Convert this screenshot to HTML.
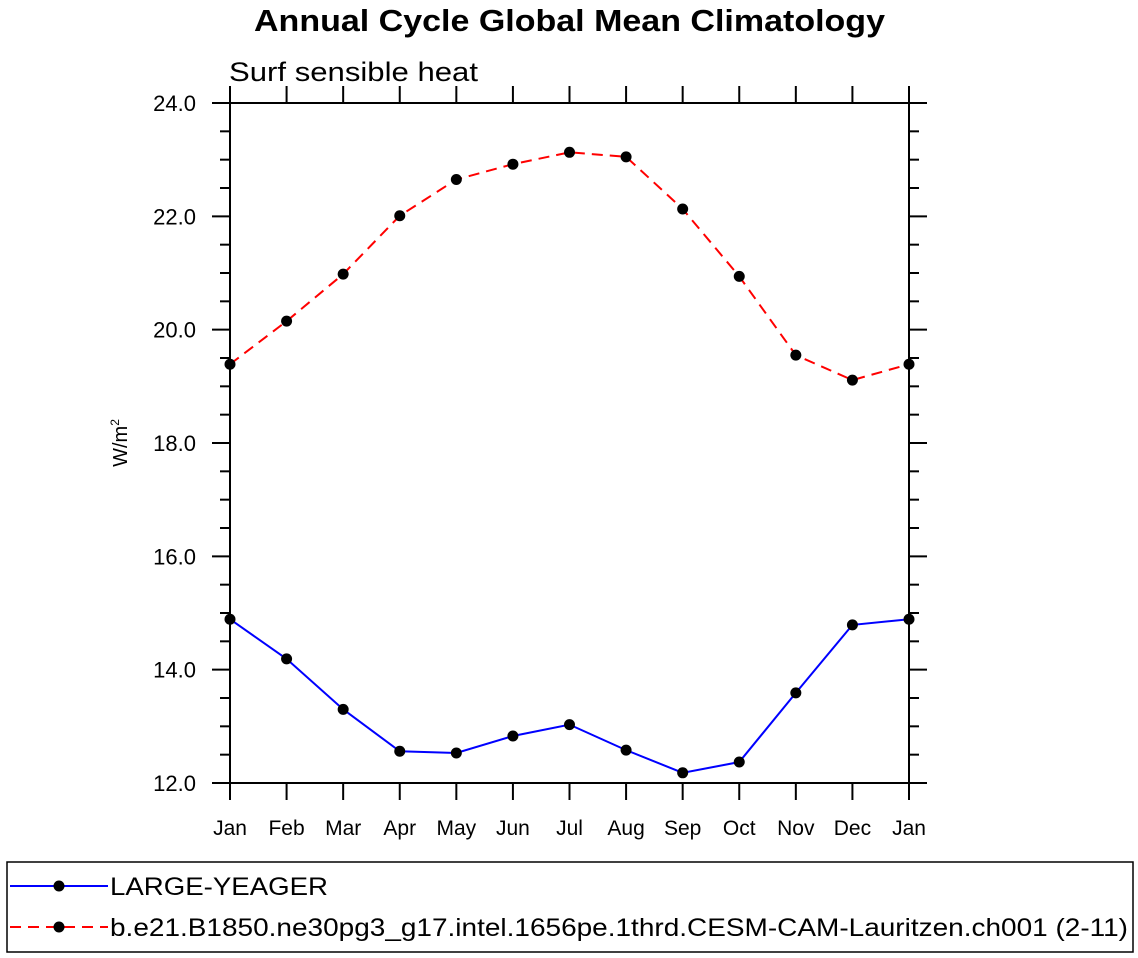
<!DOCTYPE html>
<html><head><meta charset="utf-8"><style>
html,body{margin:0;padding:0;background:#fff;}
svg{display:block;font-family:"Liberation Sans",Helvetica,Arial,sans-serif;}
</style></head><body>
<svg id="chart" width="1138" height="958" viewBox="0 0 1138 958" xmlns="http://www.w3.org/2000/svg">
<text x="254" y="31" font-size="31" font-weight="bold" textLength="631" lengthAdjust="spacingAndGlyphs">Annual Cycle Global Mean Climatology</text>
<text x="229" y="81" font-size="27" textLength="249" lengthAdjust="spacingAndGlyphs">Surf sensible heat</text>
<text transform="translate(127,443) rotate(-90)" text-anchor="middle" font-size="20">W/m<tspan font-size="12" dy="-8">2</tspan></text>
<g id="axes"></g>
<g id="series"></g>
<rect x="7" y="862" width="1126" height="90" fill="none" stroke="#000" stroke-width="1.5"/>
<g id="legend"></g>
</svg>
<script>
const months = ["Jan","Feb","Mar","Apr","May","Jun","Jul","Aug","Sep","Oct","Nov","Dec","Jan"];
const yTicks = [12,14,16,18,20,22,24];
const largeYeager = [14.89,14.19,13.30,12.56,12.53,12.83,13.03,12.58,12.18,12.37,13.59,14.79,14.89];
const cesmCam = [19.39,20.15,20.98,22.01,22.65,22.92,23.13,23.05,22.13,20.94,19.55,19.11,19.39];
const seriesNames = ["LARGE-YEAGER","b.e21.B1850.ne30pg3_g17.intel.1656pe.1thrd.CESM-CAM-Lauritzen.ch001 (2-11)"];

const NS="http://www.w3.org/2000/svg";
const X0=230,X1=909,Y0=783,Y1=103,VMIN=12,VMAX=24;
function xs(i){return X0+(X1-X0)*i/(months.length-1);}
function ys(v){return Y0-(v-VMIN)/(VMAX-VMIN)*(Y0-Y1);}
function mk(tag,attrs,parent){const e=document.createElementNS(NS,tag);for(const k in attrs)e.setAttribute(k,attrs[k]);parent.appendChild(e);return e;}
const axes=document.getElementById('axes');
const frame=mk('rect',{x:X0,y:Y1,width:X1-X0,height:Y0-Y1,fill:'none',stroke:'#000','stroke-width':2},axes);


for(let v=VMIN;v<=VMAX+1e-9;v+=0.5){
  const y=ys(v);const major=Math.abs(v-Math.round(v/2)*2)<1e-9;const L=major?18:10;
  const t1=mk('line',{x1:X0-L,x2:X0,y1:y,y2:y,stroke:'#000','stroke-width':2},axes);
  
  
  const t2=mk('line',{x1:X1,x2:X1+L,y1:y,y2:y,stroke:'#000','stroke-width':2},axes);
  
  
}
yTicks.forEach(v=>{
  const t=mk('text',{x:X0-34,y:ys(v)+8,'text-anchor':'end','font-size':22},axes);t.textContent=v.toFixed(1);
  
  
});
months.forEach((m,i)=>{
  const x=xs(i);
  const b=mk('line',{x1:x,x2:x,y1:Y0,y2:Y0+17,stroke:'#000','stroke-width':2},axes);
  
  
  const tp=mk('line',{x1:x,x2:x,y1:Y1-17,y2:Y1,stroke:'#000','stroke-width':2},axes);
  
  
  const t=mk('text',{x:x,y:835,'text-anchor':'middle','font-size':21},axes);t.textContent=m;
  
  
});
const sg=document.getElementById('series');
function drawSeries(vals,color,dash,name){
  const g=mk('g',{},sg);
  
  
  const p=mk('polyline',{points:vals.map((v,i)=>xs(i)+','+ys(v)).join(' '),fill:'none',stroke:color,'stroke-width':2,'stroke-dasharray':dash},g);
  
  
  vals.forEach((v,i)=>{
    const c=mk('circle',{cx:xs(i),cy:ys(v),r:5.5,fill:'#000'},g);
    
    
  });
}
drawSeries(cesmCam,'#f00','11,7','cesm-cam-series');
drawSeries(largeYeager,'#00f','none','large-yeager-series');
const lg=document.getElementById('legend');
[[seriesNames[0],'#00f','none',886,218],[seriesNames[1],'#f00','11,7',927,1018]].forEach((s,k)=>{
  const g=mk('g',{},lg);
  
  
  mk('line',{x1:10,x2:108,y1:s[3],y2:s[3],stroke:s[1],'stroke-width':2,'stroke-dasharray':s[2]},g);
  mk('circle',{cx:59,cy:s[3],r:5.5,fill:'#000'},g);
  const t=mk('text',{x:110,y:s[3]+9,'font-size':25,textLength:s[4],lengthAdjust:'spacingAndGlyphs'},g);t.textContent=s[0];
});
</script>
</body></html>
